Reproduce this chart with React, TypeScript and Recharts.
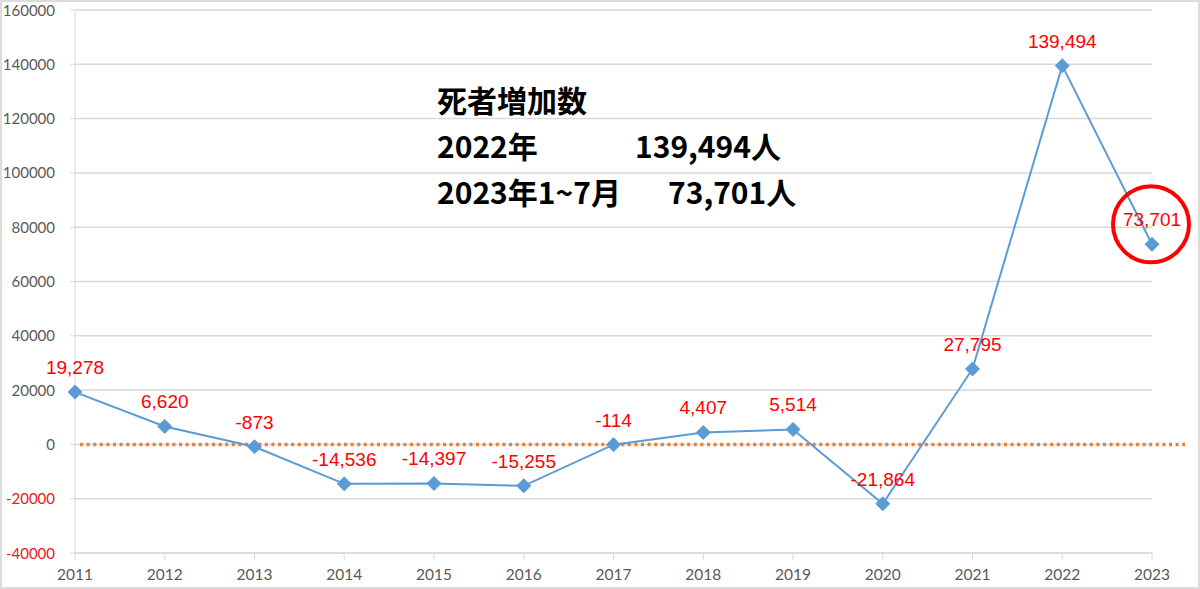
import React from "react"
import { LineChart, Line, XAxis, YAxis, CartesianGrid, ReferenceLine, LabelList } from "recharts"

const years = ["2011", "2012", "2013", "2014", "2015", "2016", "2017", "2018", "2019", "2020", "2021", "2022", "2023"]
const deathIncrease = [19278, 6620, -873, -14536, -14397, -15255, -114, 4407, 5514, -21864, 27795, 139494, 73701]
const yTicks = [-40000, -20000, 0, 20000, 40000, 60000, 80000, 100000, 120000, 140000, 160000]

const data = years.map((year, i) => ({ year, value: deathIncrease[i] }))

const BLUE = "#5B9BD5"
const RED = "#FF0000"
const AXIS_GREY = "#595959"

function Diamond(props: any) {
  const { cx, cy, index } = props
  if (cx == null || cy == null) return null
  const r = 7
  return (
    <g>
      <polygon
        points={`${cx},${cy - r} ${cx + r},${cy} ${cx},${cy + r} ${cx - r},${cy}`}
        fill={BLUE}
        stroke={BLUE}
      />
      {index === years.length - 1 && (
        <circle cx={cx - 1} cy={cy - 20} r={38} fill="none" stroke={RED} strokeWidth={4} />
      )}
    </g>
  )
}

function YTick(props: any) {
  const { y, payload } = props
  const neg = payload.value < 0
  return (
    <text x={55} y={y} dy={5.5} textAnchor="end" fontSize={15} fontFamily="Lato, 'Liberation Sans', sans-serif" fill={neg ? "#E02020" : AXIS_GREY}>
      {payload.value}
    </text>
  )
}

function XTick(props: any) {
  const { x, y, payload } = props
  return (
    <text x={x} y={y} dy={18} textAnchor="middle" fontSize={15.5} fontFamily="Lato, 'Liberation Sans', sans-serif" fill={AXIS_GREY}>
      {payload.value}
    </text>
  )
}

function ValueLabel(props: any) {
  const { x, y, value } = props
  return (
    <text x={x} y={y - 18} textAnchor="middle" fontSize={19} fontFamily="'Liberation Sans', Arial, sans-serif" fill={RED}>
      {Number(value).toLocaleString("en-US")}
    </text>
  )
}

function ZeroLine(props: any) {
  const { x1, x2, y1 } = props
  return (
    <line x1={x1 + 5} x2={x2 + 33} y1={y1} y2={y1} stroke="#ED7D31" strokeWidth={3.5} strokeDasharray="3 3.6" />
  )
}

export default function App() {
  return (
    <div style={{ position: "absolute", left: 0, top: 0, width: 1200, height: 589, background: "#fff", overflow: "hidden" }}>
      <div style={{ position: "absolute", left: 0, top: 0, width: 1196, height: 585, border: "2px solid #dcdcdc" }} />
      <LineChart width={1200} height={589} data={data} margin={{ top: 10, right: 48, left: 0, bottom: 0 }}>
        <CartesianGrid vertical={false} stroke="#d9d9d9" strokeWidth={1.5} />
        <XAxis
          dataKey="year"
          padding={{ left: 0, right: 0 }}
          height={36}
          stroke="#d9d9d9"
          tickSize={7}
          tick={<XTick />}
          interval={0}
        />
        <YAxis
          width={75}
          domain={[-40000, 160000]}
          ticks={yTicks}
          stroke="#d9d9d9"
          tickSize={5}
          tick={<YTick />}
          interval={0}
        />
        <ReferenceLine y={0} shape={<ZeroLine />} />
        <Line
          type="linear"
          dataKey="value"
          stroke={BLUE}
          strokeWidth={2}
          dot={<Diamond />}
          activeDot={false}
          isAnimationActive={false}
        >
          <LabelList dataKey="value" content={<ValueLabel />} />
        </Line>
      </LineChart>
      <div
        style={{
          position: "absolute",
          left: 437,
          top: 76,
          fontFamily: "'Noto Sans CJK JP', sans-serif",
          fontWeight: 700,
          fontSize: 30,
          lineHeight: "46px",
          color: "#000",
          whiteSpace: "nowrap",
        }}
      >
        <div>死者増加数</div>
        <div>
          <span style={{ display: "inline-block", width: 198 }}>2022年</span>
          <span>139,494人</span>
        </div>
        <div>
          <span style={{ display: "inline-block", width: 231 }}>2023年1~7月</span>
          <span>73,701人</span>
        </div>
      </div>
    </div>
  )
}
